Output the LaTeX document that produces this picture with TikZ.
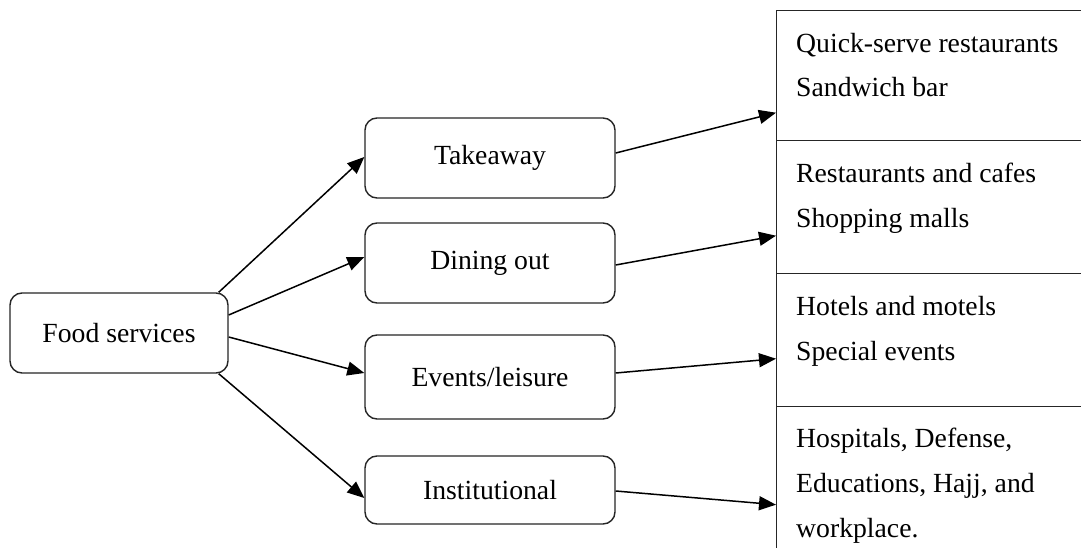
\documentclass[tikz,border=0pt]{standalone}
\usepackage{fontspec}
\setmainfont{Liberation Serif}
\usetikzlibrary{arrows.meta}
\begin{document}
\begin{tikzpicture}[x=1pt,y=-1pt,
  every node/.style={font=\fontsize{27.7}{44}\selectfont},
  rbox/.style={draw=black!85, line width=1.4pt, rounded corners=12pt, minimum width=250pt, inner sep=0pt},
  col/.style={draw=black!85, line width=1.4pt, anchor=north west, minimum width=330pt, inner sep=0pt},
  item/.style={anchor=base west, inner sep=0pt},
  conn/.style={line width=1.5pt, -{Triangle[length=17pt,width=14pt]}}
]
\clip (0,0) rectangle (1081,548);
\fill[white] (0,0) rectangle (1081,548);

% left node
\node[rbox, minimum width=218pt, minimum height=80pt] (fs) at (119,333) {Food services};

% middle nodes
\node[rbox, minimum height=80pt] (take) at (490,158) {Takeaway};
\node[rbox, minimum height=80pt] (dine) at (490,263) {Dining out};
\node[rbox, minimum height=84pt] (ev) at (490,377) {Events/leisure};
\node[rbox, minimum height=68pt] (inst) at (490,490) {Institutional};

% right column rows
\node[col, minimum height=130pt] (r1) at (776,10) {};
\node[col, minimum height=133pt] (r2) at (776,140) {};
\node[col, minimum height=133pt] (r3) at (776,273) {};
\node[col, minimum height=160pt] (r4) at (776,406) {};

\node[item] (t1a) at (796,53) {Quick-serve restaurants};
\node[item] (t1b) at (796,97) {Sandwich bar};
\node[item] (t2a) at (796,183) {Restaurants and cafes};
\node[item] (t2b) at (796,227) {Shopping malls};
\node[item] (t3a) at (796,315) {Hotels and motels};
\node[item] (t3b) at (796,360) {Special events};
\node[item] (t4a) at (796,447) {Hospitals, Defense,};
\node[item] (t4b) at (796,492) {Educations, Hajj, and};
\node[item] (t4c) at (796,537) {workplace.};

% connectors left
\draw[conn] ([xshift=-10pt]fs.north east) -- ([yshift=1pt]take.west);
\draw[conn] ([yshift=18pt]fs.east) -- ([yshift=6pt]dine.west);
\draw[conn] ([yshift=-4pt]fs.east) -- ([yshift=4pt]ev.west);
\draw[conn] ([xshift=-10pt]fs.south east) -- ([yshift=-8pt]inst.west);

% connectors right
\draw[conn] ([yshift=5pt]take.east) -- ([yshift=-37pt]r1.west);
\draw[conn] ([yshift=-2pt]dine.east) -- ([yshift=-28.5pt]r2.west);
\draw[conn] ([yshift=4pt]ev.east) -- ([yshift=-18.5pt]r3.west);
\draw[conn] ([yshift=-1pt]inst.east) -- ([yshift=-18pt]r4.west);
\end{tikzpicture}
\end{document}
